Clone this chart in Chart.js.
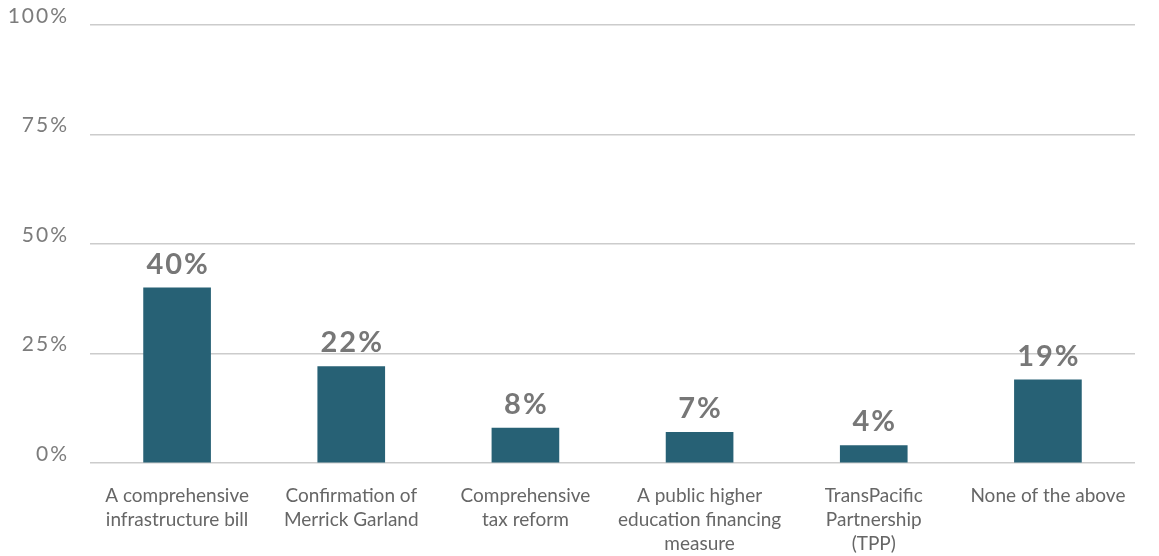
<!DOCTYPE html>
<html>
<head>
<meta charset="utf-8">
<script src="https://cdn.jsdelivr.net/npm/chart.js@4"></script>
<style>
  html, body { margin: 0; padding: 0; background: #ffffff; }
  #wrap { width: 1159px; height: 556px; position: relative; }
</style>
</head>
<body>
<div id="wrap"><canvas id="chart"></canvas></div>
<script>
// Priorities for the coming session (share of respondents)
const categories = [
  ['A comprehensive', 'infrastructure bill'],
  ['Confirmation of', 'Merrick Garland'],
  ['Comprehensive', 'tax reform'],
  ['A public higher', 'education financing', 'measure'],
  ['TransPacific', 'Partnership', '(TPP)'],
  'None of the above'
];
const shares = [40, 22, 8, 7, 4, 19];
const yTicks = [0, 25, 50, 75, 100];

const FONT = 'Lato, "Open Sans", sans-serif';

// Percentage labels above each bar
const valueLabels = {
  id: 'valueLabels',
  afterDatasetsDraw(chart) {
    const ctx = chart.ctx;
    const meta = chart.getDatasetMeta(0);
    ctx.save();
    ctx.font = 'bold 29px ' + FONT;
    ctx.fillStyle = '#777777';
    ctx.textAlign = 'center';
    ctx.textBaseline = 'bottom';
    ctx.letterSpacing = '2px';
    meta.data.forEach((bar, i) => {
      ctx.fillText(shares[i] + '%', bar.x + 1, bar.y - 9);
    });
    ctx.restore();
  }
};

// Wider tracking on the value axis labels
const spacedTicks = {
  id: 'spacedTicks',
  beforeDraw(chart) {
    const y = chart.scales.y;
    if (y && !y._spaced) {
      const orig = y.drawLabels.bind(y);
      y.drawLabels = function (area) {
        const ctx = this.ctx;
        ctx.save();
        ctx.letterSpacing = '2px';
        orig(area);
        ctx.restore();
      };
      y._spaced = true;
    }
  }
};

new Chart(document.getElementById('chart'), {
  type: 'bar',
  data: {
    labels: categories,
    datasets: [{
      data: shares,
      backgroundColor: '#276175',
      barThickness: 67
    }]
  },
  options: {
    responsive: true,
    maintainAspectRatio: false,
    animation: false,
    layout: { padding: { top: 25, right: 24, left: 0, bottom: 0 } },
    plugins: {
      legend: { display: false },
      tooltip: { enabled: false }
    },
    scales: {
      y: {
        min: 0,
        max: 100,
        afterBuildTicks(scale) {
          scale.ticks = yTicks.map(v => ({ value: v }));
        },
        afterFit(scale) {
          scale.width = 90;
          scale.paddingTop = 0;
          scale.paddingBottom = 0;
        },
        border: { display: false },
        grid: { color: '#cccccc', lineWidth: 1.5, drawTicks: false },
        ticks: {
          padding: 21,
          labelOffset: -9,
          color: '#7c7c7c',
          font: { family: FONT, size: 21 },
          callback: v => v + '%'
        }
      },
      x: {
        afterFit(scale) { scale.height = 93; },
        border: { display: false },
        grid: { display: false, drawTicks: false },
        ticks: {
          padding: 21,
          maxRotation: 0,
          autoSkip: false,
          color: '#666666',
          font: { family: FONT, size: 19, lineHeight: 1.26 }
        }
      }
    }
  },
  plugins: [valueLabels, spacedTicks]
});
</script>
</body>
</html>
